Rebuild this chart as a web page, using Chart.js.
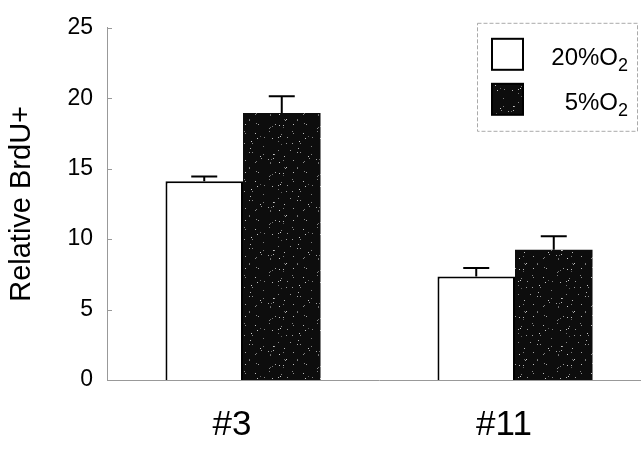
<!DOCTYPE html>
<html>
<head>
<meta charset="utf-8">
<script src="https://cdn.jsdelivr.net/npm/chart.js@4/dist/chart.umd.min.js"></script>
<style>
  html, body { margin: 0; padding: 0; background: #fff; overflow: hidden; }
  #wrap { width: 641px; height: 451px; overflow: hidden; }
  canvas { display: block; }
</style>
</head>
<body>
<div id="wrap"><canvas id="c" width="651" height="451"></canvas></div>
<script>
// Cell lines and relative BrdU+ values under two oxygen conditions
const categories = ['#3', '#11'];
const normoxia = [14.1, 7.35];       // 20% O2
const normoxiaErr = [0.35, 0.6];
const hypoxia = [18.95, 9.25];       // 5% O2
const hypoxiaErr = [1.2, 0.95];
const yTicks = [0, 5, 10, 15, 20, 25];

// Dark speckled fill for the 5% O2 bars (deterministic texture)
function speckle() {
  const p = document.createElement('canvas');
  p.width = 48; p.height = 48;
  const g = p.getContext('2d');
  g.fillStyle = '#0d0d0d';
  g.fillRect(0, 0, 48, 48);
  let s = 1234567;
  const next = () => { s = (s * 1103515245 + 12345) & 0x7fffffff; return s / 0x7fffffff; };
  for (let i = 0; i < 55; i++) {
    const x = Math.floor(next() * 48), y = Math.floor(next() * 48);
    const v = 90 + Math.floor(next() * 120);
    g.fillStyle = `rgb(${v},${v},${v})`;
    g.fillRect(x, y, 1, 1);
  }
  return g.createPattern(p, 'repeat');
}
const darkFill = speckle();

// Upward error bars drawn from each dataset's error array
const errorBars = {
  id: 'errorBars',
  afterDatasetsDraw(chart) {
    const ctx = chart.ctx, y = chart.scales.y;
    chart.data.datasets.forEach((ds, di) => {
      const meta = chart.getDatasetMeta(di);
      meta.data.forEach((bar, i) => {
        const top = y.getPixelForValue(ds.data[i] + ds.errors[i]);
        const x = bar.x;
        ctx.save();
        ctx.strokeStyle = '#000';
        ctx.lineWidth = 2;
        ctx.beginPath();
        ctx.moveTo(x, bar.y);
        ctx.lineTo(x, top);
        ctx.moveTo(x - 13, top);
        ctx.lineTo(x + 13, top);
        ctx.stroke();
        ctx.restore();
      });
    });
  }
};

// Short inward tick marks on the value axis
const innerTicks = {
  id: 'innerTicks',
  afterDraw(chart) {
    const ctx = chart.ctx, y = chart.scales.y, left = chart.chartArea.left;
    ctx.save();
    ctx.strokeStyle = '#999';
    ctx.lineWidth = 1;
    ctx.beginPath();
    yTicks.forEach(v => {
      const py = Math.round(y.getPixelForValue(v)) + 0.5;
      ctx.moveTo(left, py);
      ctx.lineTo(left + 5, py);
    });
    ctx.stroke();
    ctx.restore();
  }
};

// Boxed legend with subscripted O2 labels
const boxLegend = {
  id: 'boxLegend',
  afterDraw(chart) {
    const ctx = chart.ctx, a = chart.chartArea;
    const bx = a.right - 174, by = a.top - 5, bw = 160, bh = 108;
    ctx.save();
    ctx.fillStyle = '#fff';
    ctx.fillRect(bx, by, bw, bh);
    ctx.strokeStyle = '#aaa';
    ctx.lineWidth = 1;
    ctx.setLineDash([4, 2]);
    ctx.strokeRect(bx + 0.5, by + 0.5, bw, bh);
    ctx.setLineDash([]);
    const items = [
      { main: '20%O', sub: '2', ds: chart.data.datasets[0], y: by + 16 },
      { main: '5%O', sub: '2', ds: chart.data.datasets[1], y: by + 61 }
    ];
    items.forEach(it => {
      ctx.fillStyle = it.ds.backgroundColor;
      ctx.fillRect(bx + 15, it.y, 31, 31);
      ctx.strokeStyle = '#000';
      ctx.lineWidth = 2;
      ctx.strokeRect(bx + 15, it.y, 31, 31);
      ctx.fillStyle = '#000';
      ctx.textBaseline = 'alphabetic';
      ctx.font = '18px "Liberation Sans", Arial, sans-serif';
      const subW = ctx.measureText(it.sub).width;
      const right = bx + 151;
      ctx.textAlign = 'left';
      ctx.fillText(it.sub, right - subW, it.y + 32);
      ctx.font = '24px "Liberation Sans", Arial, sans-serif';
      ctx.textAlign = 'right';
      ctx.fillText(it.main, right - subW, it.y + 26);
    });
    ctx.restore();
  }
};

new Chart(document.getElementById('c'), {
  type: 'bar',
  data: {
    labels: categories,
    datasets: [
      { label: '20%O2', data: normoxia, errors: normoxiaErr,
        backgroundColor: '#ffffff', borderColor: '#000', borderWidth: 2,
        categoryPercentage: 0.57, barPercentage: 1.0 },
      { label: '5%O2', data: hypoxia, errors: hypoxiaErr,
        backgroundColor: darkFill, borderColor: '#000', borderWidth: 0,
        categoryPercentage: 0.57, barPercentage: 1.0 }
    ]
  },
  options: {
    responsive: false,
    animation: false,
    layout: { padding: { top: 25, left: 0, right: 0, bottom: 0 } },
    plugins: { legend: { display: false }, tooltip: { enabled: false } },
    scales: {
      x: {
        grid: { display: false, drawTicks: false },
        border: { display: true, color: '#999', width: 1, dash: [3, 3] },
        ticks: { color: '#000', padding: 24, labelOffset: -11,
          font: { family: '"Liberation Sans", Arial, sans-serif', size: 35 } },
        afterFit(s) { s.height = 71; }
      },
      y: {
        min: 0, max: 25,
        afterBuildTicks(s) { s.ticks = yTicks.map(v => ({ value: v })); },
        grid: { display: false, drawTicks: false },
        border: { display: true, color: '#999', width: 1, dash: [3, 2] },
        ticks: { color: '#000', padding: 14,
          font: { family: '"Liberation Sans", Arial, sans-serif', size: 23 } },
        title: { display: true, text: 'Relative BrdU+', color: '#000',
          padding: { top: 5, bottom: 0 },
          font: { family: '"Liberation Sans", Arial, sans-serif', size: 29 } },
        afterFit(s) { s.width = 107; }
      }
    }
  },
  plugins: [errorBars, innerTicks, boxLegend]
});
</script>
</body>
</html>
